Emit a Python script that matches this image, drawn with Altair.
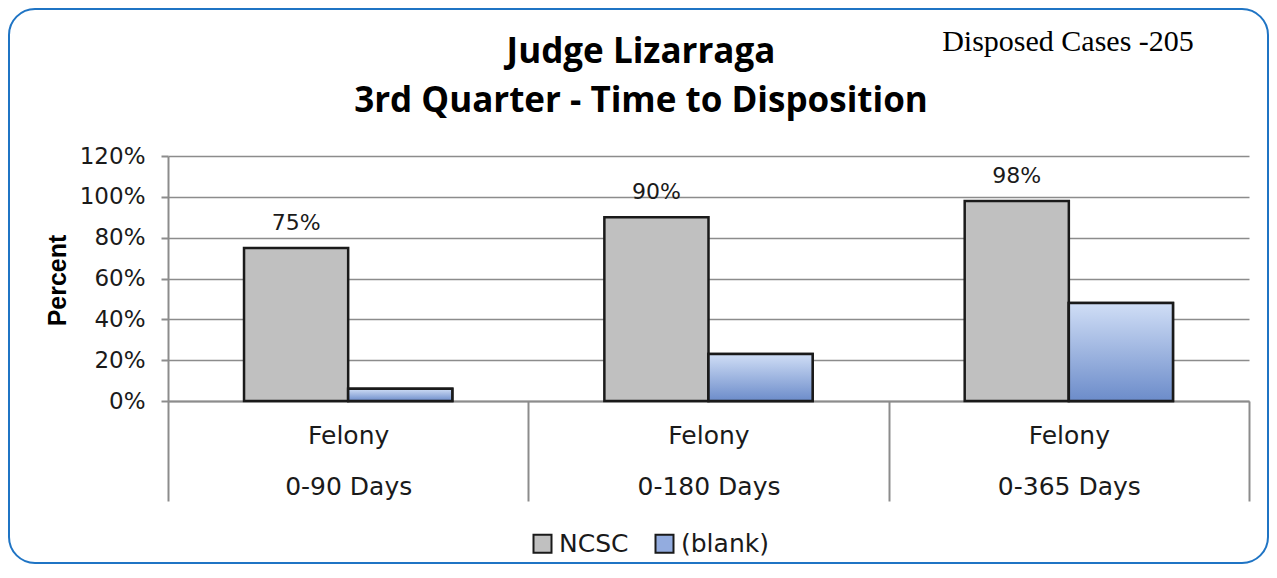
import altair as alt
import pandas as pd

categories = ["Felony|0-90 Days", "Felony|0-180 Days", "Felony|0-365 Days"]
series = ["NCSC", "(blank)"]
ncsc_values = [75, 90, 98]
blank_values = [6, 23, 48]
title_lines = ["Judge Lizarraga", "3rd Quarter - Time to Disposition"]
note_text = "Disposed Cases -205"

rows = []
for c, v in zip(categories, ncsc_values):
    rows.append({"category": c, "series": "NCSC", "value": v, "label": f"{v}%"})
for c, v in zip(categories, blank_values):
    rows.append({"category": c, "series": "(blank)", "value": v, "label": f"{v}%"})
df = pd.DataFrame(rows)

F = "DejaVu Sans"
TXT = "#1a1a1a"
GRID = "#8c8c8c"

x_enc = alt.X(
    "category:N", sort=categories,
    scale=alt.Scale(paddingInner=0, paddingOuter=0),
    axis=alt.Axis(
        title=None, labelExpr="split(datum.label, '|')", labelFont=F, labelFontSize=25,
        labelColor=TXT, labelLineHeight=51, labelBaseline="top", labelAngle=0,
        tickBand="extent", tickSize=100, tickColor=GRID, tickWidth=2,
        labelPadding=-78, domainColor=GRID, domainWidth=2, grid=False,
    ),
)
xo_enc = alt.XOffset(
    "series:N", sort=series,
    scale=alt.Scale(domain=series, paddingInner=0, paddingOuter=0.73),
)
y_enc = alt.Y(
    "value:Q",
    scale=alt.Scale(domain=[0, 120]),
    axis=alt.Axis(
        values=[0, 20, 40, 60, 80, 100, 120], labelExpr="datum.value + '%'",
        title="Percent", titleFont="Liberation Sans", titleFontWeight="bold", titleFontSize=25,
        titleColor="#000000", titleAngle=270, titleX=-111, titleY=124,
        titleAlign="center", titleBaseline="middle",
        labelFont=F, labelFontSize=23, labelColor=TXT, labelPadding=16,
        tickSize=7, tickColor=GRID, tickWidth=2,
        domainColor=GRID, domainWidth=2, gridColor=GRID, gridWidth=1.5,
    ),
)

base = alt.Chart(df).encode(x=x_enc, xOffset=xo_enc, y=y_enc)

bars = base.mark_bar(stroke=TXT, strokeWidth=2.5).encode(
    color=alt.Color(
        "series:N",
        scale=alt.Scale(domain=series, range=["#c0c0c0", "#93acdf"]),
        legend=alt.Legend(
            title=None, orient="none", legendX=362, legendY=375, direction="horizontal",
            symbolType="square", symbolSize=324, symbolStrokeColor=TXT, symbolStrokeWidth=2,
            labelFont=F, labelFontSize=25, labelColor=TXT, labelOffset=4, columnPadding=22,
        ),
    )
)

gradient = {
    "x1": 0, "y1": 0, "x2": 0, "y2": 1, "gradient": "linear",
    "stops": [{"offset": 0, "color": "#d0def6"}, {"offset": 1, "color": "#6c8cca"}],
}
blue = base.transform_filter(alt.datum.series == "(blank)").mark_bar(
    fill=gradient, stroke=TXT, strokeWidth=2.5
)

labels = base.transform_filter(alt.datum.series == "NCSC").mark_text(
    dy=-25, fontSize=22, font=F, color=TXT
).encode(text="label:N")

one = pd.DataFrame({"a": [0]})
border = alt.Chart(one).mark_rect(
    fill="transparent", stroke="#1f74c4", strokeWidth=2, cornerRadius=26
).encode(x=alt.value(-159), x2=alt.value(1100), y=alt.value(-147), y2=alt.value(407))

t1 = alt.Chart(one).mark_text(
    font="Open Sans", fontWeight="bold", fontSize=35, color="#000000", baseline="middle"
).encode(x=alt.value(473), y=alt.value(-104), text=alt.value(title_lines[0]))
t2 = alt.Chart(one).mark_text(
    font="Open Sans", fontWeight="bold", fontSize=35, color="#000000", baseline="middle"
).encode(x=alt.value(473), y=alt.value(-55), text=alt.value(title_lines[1]))
note = alt.Chart(one).mark_text(
    font="Liberation Serif", fontSize=30, color="#000000", baseline="middle"
).encode(x=alt.value(900), y=alt.value(-114), text=alt.value(note_text))

chart = alt.layer(border, bars, blue, labels, t1, t2, note).properties(
    width=1081, height=245,
    padding={"left": 160, "top": 148, "right": 20, "bottom": 163},
    autosize="none",
).configure_view(strokeWidth=0)

chart.save("out.html", embed_options={"renderer": "svg", "actions": False})
